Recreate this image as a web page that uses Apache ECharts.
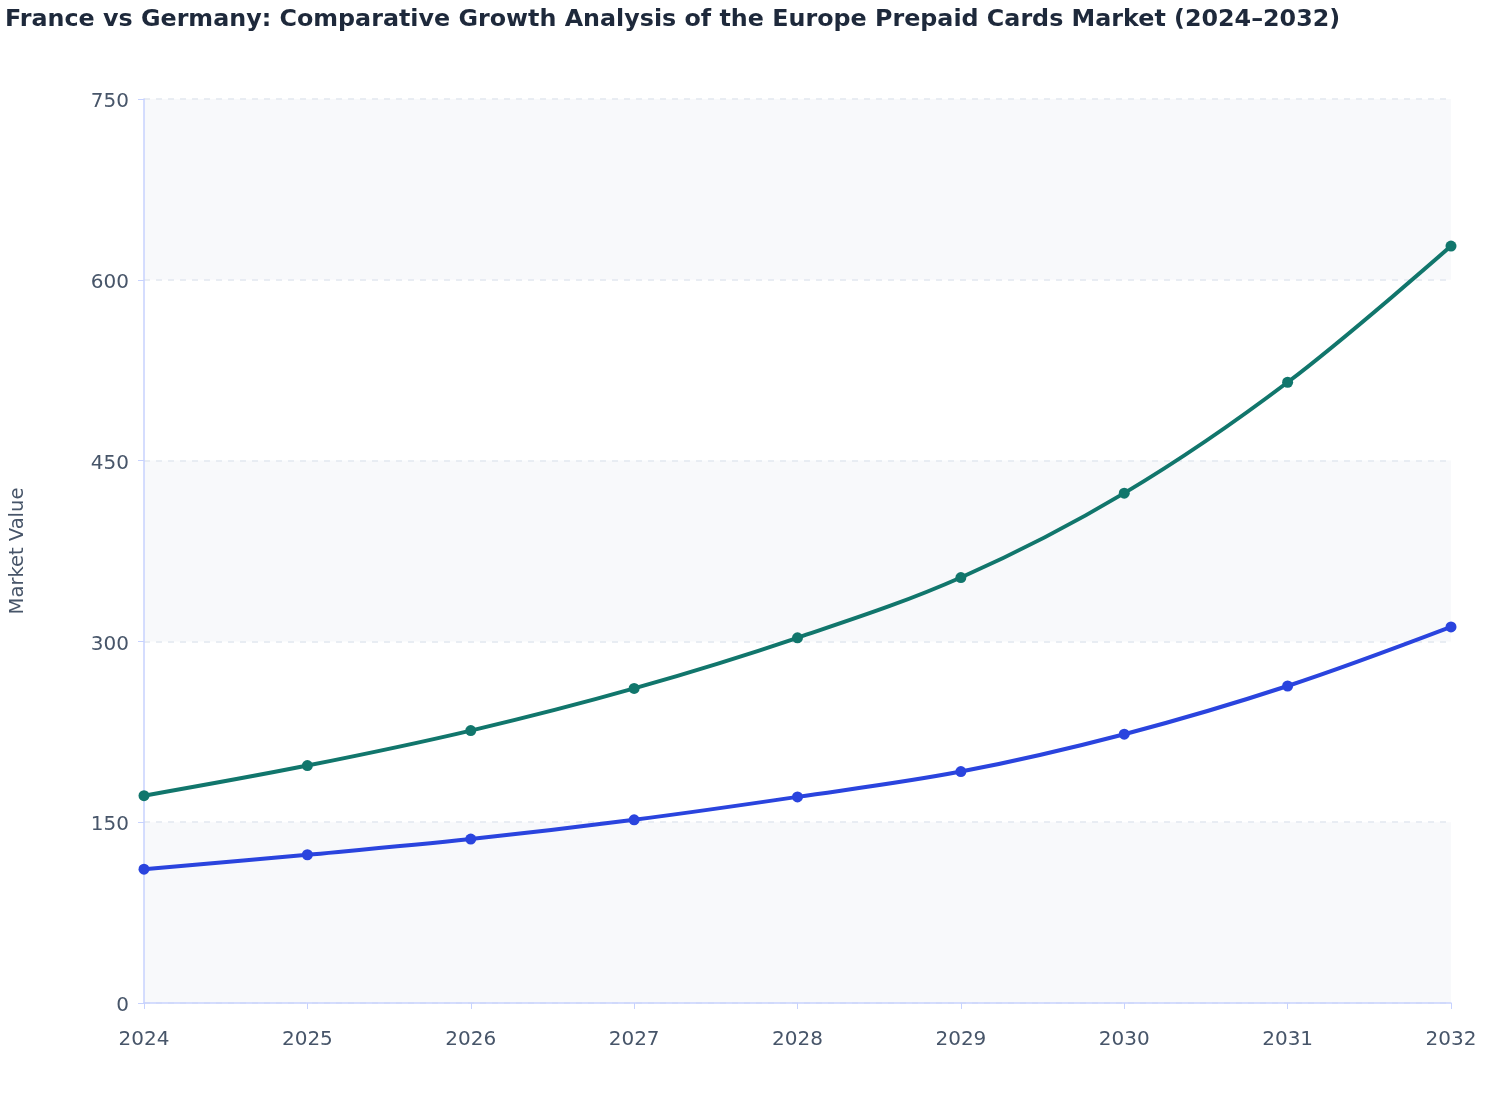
<!DOCTYPE html>
<html>
<head>
<meta charset="utf-8">
<script src="https://cdn.jsdelivr.net/npm/echarts@6/dist/echarts.min.js"></script>
<style>
html,body{margin:0;padding:0;background:#fff;}
#c{width:1508px;height:1120px;}
</style>
</head>
<body>
<div id="c"></div>
<script>
const years = ['2024','2025','2026','2027','2028','2029','2030','2031','2032'];
const germany = [172, 197, 226, 261, 303, 353, 423, 515, 628];
const france = [111, 123, 136, 152, 171, 192, 223, 263, 312];
const yTicks = {min: 0, max: 750, interval: 150};

const chart = echarts.init(document.getElementById('c'));
chart.setOption({
  backgroundColor: '#ffffff',
  animation: false,
  title: {
    text: 'France vs Germany: Comparative Growth Analysis of the Europe Prepaid Cards Market (2024\u20132032)',
    left: 0, top: 3,
    textStyle: {fontFamily: 'DejaVu Sans', fontSize: 23.8, fontWeight: 'bold', color: '#1e293b'}
  },
  grid: {left: 144, right: 57, top: 99, bottom: 117, containLabel: false, outerBoundsMode: 'none'},
  xAxis: {
    type: 'category',
    data: years,
    boundaryGap: false,
    axisLine: {lineStyle: {color: '#c7d2fe', width: 1.5}},
    axisTick: {show: true, alignWithLabel: true, length: 6, lineStyle: {color: '#c7d2fe'}},
    axisLabel: {color: '#475569', fontSize: 20, fontFamily: 'DejaVu Sans', margin: 27},
    splitLine: {show: false}
  },
  yAxis: {
    type: 'value',
    min: yTicks.min, max: yTicks.max, interval: yTicks.interval,
    name: 'Market Value',
    nameLocation: 'middle',
    nameGap: 116,
    nameTextStyle: {color: '#475569', fontSize: 19.5, fontFamily: 'DejaVu Sans'},
    axisLine: {show: true, lineStyle: {color: '#c7d2fe', width: 1.5}},
    axisTick: {show: true, length: 6, lineStyle: {color: '#c7d2fe'}},
    axisLabel: {
      margin: 15,
      formatter: '{a|{value}}',
      rich: {a: {color: '#475569', fontSize: 20, fontFamily: 'DejaVu Sans', padding: [6, 0, 0, 0]}}
    },
    splitLine: {show: true, lineStyle: {color: '#e2e8f0', type: [6, 6], width: 1.5}},
    splitArea: {show: true, areaStyle: {color: ['#f8f9fb', 'rgba(255,255,255,0)']}}
  },
  series: [
    {
      name: 'Germany', type: 'line', data: germany, smooth: 0.35,
      symbol: 'circle', symbolSize: 11,
      lineStyle: {color: '#11766c', width: 4},
      itemStyle: {color: '#11766c'}
    },
    {
      name: 'France', type: 'line', data: france, smooth: 0.35,
      symbol: 'circle', symbolSize: 11,
      lineStyle: {color: '#2a44de', width: 4},
      itemStyle: {color: '#2a44de'}
    }
  ]
});
</script>
</body>
</html>
